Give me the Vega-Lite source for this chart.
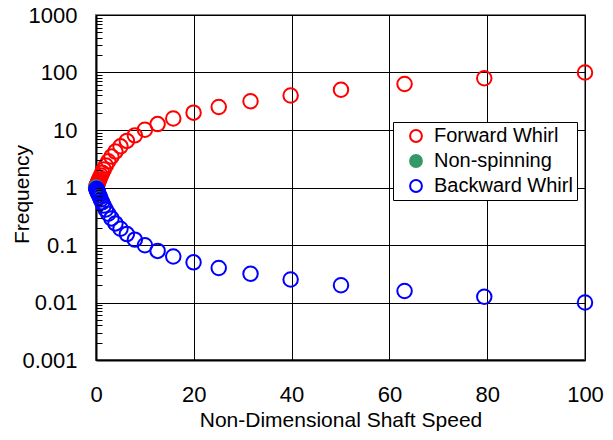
{
  "$schema": "https://vega.github.io/schema/vega-lite/v6.json",
  "width": 489,
  "height": 345,
  "autosize": {"type": "none"},
  "padding": {"left": 96, "top": 15, "right": 28, "bottom": 80},
  "background": "white",
  "config": {
    "font": "Liberation Sans",
    "view": {"stroke": "#808080", "strokeWidth": 2},
    "axis": {"labelColor": "black", "titleColor": "black", "labelFont": "Liberation Sans", "titleFont": "Liberation Sans", "titleFontWeight": "normal"}
  },
  "data": {
    "values": [
      {"speed": 0.1, "freq": 1.051, "series": "Forward Whirl"},
      {"speed": 0.126, "freq": 1.065, "series": "Forward Whirl"},
      {"speed": 0.158, "freq": 1.082, "series": "Forward Whirl"},
      {"speed": 0.2, "freq": 1.105, "series": "Forward Whirl"},
      {"speed": 0.251, "freq": 1.133, "series": "Forward Whirl"},
      {"speed": 0.316, "freq": 1.170, "series": "Forward Whirl"},
      {"speed": 0.398, "freq": 1.219, "series": "Forward Whirl"},
      {"speed": 0.5, "freq": 1.281, "series": "Forward Whirl"},
      {"speed": 0.631, "freq": 1.364, "series": "Forward Whirl"},
      {"speed": 0.794, "freq": 1.473, "series": "Forward Whirl"},
      {"speed": 1.0, "freq": 1.618, "series": "Forward Whirl"},
      {"speed": 1.26, "freq": 1.812, "series": "Forward Whirl"},
      {"speed": 1.58, "freq": 2.064, "series": "Forward Whirl"},
      {"speed": 2.0, "freq": 2.414, "series": "Forward Whirl"},
      {"speed": 2.51, "freq": 2.860, "series": "Forward Whirl"},
      {"speed": 3.16, "freq": 3.450, "series": "Forward Whirl"},
      {"speed": 3.98, "freq": 4.217, "series": "Forward Whirl"},
      {"speed": 5.01, "freq": 5.202, "series": "Forward Whirl"},
      {"speed": 6.31, "freq": 6.465, "series": "Forward Whirl"},
      {"speed": 7.94, "freq": 8.064, "series": "Forward Whirl"},
      {"speed": 10, "freq": 10.10, "series": "Forward Whirl"},
      {"speed": 12.6, "freq": 12.68, "series": "Forward Whirl"},
      {"speed": 15.8, "freq": 15.86, "series": "Forward Whirl"},
      {"speed": 19.95, "freq": 20.0, "series": "Forward Whirl"},
      {"speed": 25.1, "freq": 25.14, "series": "Forward Whirl"},
      {"speed": 31.6, "freq": 31.63, "series": "Forward Whirl"},
      {"speed": 39.8, "freq": 39.83, "series": "Forward Whirl"},
      {"speed": 50.1, "freq": 50.12, "series": "Forward Whirl"},
      {"speed": 63.1, "freq": 63.12, "series": "Forward Whirl"},
      {"speed": 79.4, "freq": 79.41, "series": "Forward Whirl"},
      {"speed": 100, "freq": 100.01, "series": "Forward Whirl"},
      {"speed": 0, "freq": 1, "series": "Non-spinning"},
      {"speed": 0.1, "freq": 0.951, "series": "Backward Whirl"},
      {"speed": 0.126, "freq": 0.939, "series": "Backward Whirl"},
      {"speed": 0.158, "freq": 0.924, "series": "Backward Whirl"},
      {"speed": 0.2, "freq": 0.905, "series": "Backward Whirl"},
      {"speed": 0.251, "freq": 0.882, "series": "Backward Whirl"},
      {"speed": 0.316, "freq": 0.854, "series": "Backward Whirl"},
      {"speed": 0.398, "freq": 0.821, "series": "Backward Whirl"},
      {"speed": 0.5, "freq": 0.781, "series": "Backward Whirl"},
      {"speed": 0.631, "freq": 0.733, "series": "Backward Whirl"},
      {"speed": 0.794, "freq": 0.679, "series": "Backward Whirl"},
      {"speed": 1.0, "freq": 0.618, "series": "Backward Whirl"},
      {"speed": 1.26, "freq": 0.552, "series": "Backward Whirl"},
      {"speed": 1.58, "freq": 0.484, "series": "Backward Whirl"},
      {"speed": 2.0, "freq": 0.414, "series": "Backward Whirl"},
      {"speed": 2.51, "freq": 0.350, "series": "Backward Whirl"},
      {"speed": 3.16, "freq": 0.290, "series": "Backward Whirl"},
      {"speed": 3.98, "freq": 0.237, "series": "Backward Whirl"},
      {"speed": 5.01, "freq": 0.192, "series": "Backward Whirl"},
      {"speed": 6.31, "freq": 0.155, "series": "Backward Whirl"},
      {"speed": 7.94, "freq": 0.124, "series": "Backward Whirl"},
      {"speed": 10, "freq": 0.099, "series": "Backward Whirl"},
      {"speed": 12.6, "freq": 0.0789, "series": "Backward Whirl"},
      {"speed": 15.8, "freq": 0.0630, "series": "Backward Whirl"},
      {"speed": 19.95, "freq": 0.0500, "series": "Backward Whirl"},
      {"speed": 25.1, "freq": 0.0398, "series": "Backward Whirl"},
      {"speed": 31.6, "freq": 0.0316, "series": "Backward Whirl"},
      {"speed": 39.8, "freq": 0.0251, "series": "Backward Whirl"},
      {"speed": 50.1, "freq": 0.01995, "series": "Backward Whirl"},
      {"speed": 63.1, "freq": 0.01584, "series": "Backward Whirl"},
      {"speed": 79.4, "freq": 0.01259, "series": "Backward Whirl"},
      {"speed": 100, "freq": 0.0100, "series": "Backward Whirl"}
    ]
  },
  "layer": [
    {
      "mark": {"type": "point", "shape": "circle", "size": 210, "strokeWidth": 2, "opacity": 1, "filled": true},
      "encoding": {
        "x": {
          "field": "speed", "type": "quantitative",
          "scale": {"domain": [0, 100], "nice": false},
          "axis": {
            "title": "Non-Dimensional Shaft Speed",
            "values": [0, 20, 40, 60, 80, 100],
            "labelFlush": false, "labelOverlap": false,
            "grid": true, "gridColor": "black", "gridWidth": 1, "gridOpacity": 1,
            "domainColor": "black", "domainWidth": 2,
            "ticks": false,
            "labelFontSize": 22, "labelPadding": 24,
            "titleFontSize": 21, "titlePadding": 4
          }
        },
        "y": {
          "field": "freq", "type": "quantitative",
          "scale": {"type": "log", "domain": [0.001, 1000], "nice": false},
          "axis": {
            "title": "Frequency",
            "values": [0.001, 0.01, 0.1, 1, 10, 100, 1000],
            "format": "~g",
            "labelFlush": false, "labelOverlap": false,
            "grid": true, "gridColor": "black", "gridWidth": 1, "gridOpacity": 1,
            "domainColor": "black", "domainWidth": 2,
            "ticks": false,
            "labelFontSize": 22, "labelPadding": 19,
            "titleFontSize": 21, "titleX": -74, "titleY": 179, "titleAlign": "center", "titleBaseline": "middle", "titleAngle": -90
          }
        },
        "stroke": {
          "field": "series", "type": "nominal",
          "scale": {"domain": ["Forward Whirl", "Non-spinning", "Backward Whirl"], "range": ["#ff0000", "#339966", "#0000ff"]},
          "legend": {
            "title": null, "orient": "none", "legendX": 297, "legendY": 107,
            "fillColor": "white", "strokeColor": "black",
            "padding": 4, "symbolOffset": 9, "symbolType": "circle", "symbolSize": 140, "symbolStrokeWidth": 2,
            "labelFontSize": 20, "labelFont": "Liberation Sans", "labelColor": "black", "labelOffset": 8, "rowPadding": 5
          }
        },
        "fill": {
          "field": "series", "type": "nominal",
          "scale": {"domain": ["Forward Whirl", "Non-spinning", "Backward Whirl"], "range": ["transparent", "#339966", "transparent"]},
          "legend": {
            "title": null, "orient": "none", "legendX": 297, "legendY": 107,
            "fillColor": "white", "strokeColor": "black",
            "padding": 4, "symbolOffset": 9, "symbolType": "circle", "symbolSize": 140, "symbolStrokeWidth": 2,
            "labelFontSize": 20, "labelFont": "Liberation Sans", "labelColor": "black", "labelOffset": 8, "rowPadding": 5
          }
        }
      }
    },
    {
      "mark": {"type": "point", "opacity": 0},
      "encoding": {
        "x": {"field": "speed", "type": "quantitative", "axis": null},
        "y": {
          "field": "freq", "type": "quantitative",
          "axis": {
            "orient": "left", "zindex": 1,
            "values": [0.001, 0.002, 0.003, 0.004, 0.005, 0.006, 0.007, 0.008, 0.009,
                       0.01, 0.02, 0.03, 0.04, 0.05, 0.06, 0.07, 0.08, 0.09,
                       0.1, 0.2, 0.3, 0.4, 0.5, 0.6, 0.7, 0.8, 0.9,
                       1, 2, 3, 4, 5, 6, 7, 8, 9,
                       10, 20, 30, 40, 50, 60, 70, 80, 90,
                       100, 200, 300, 400, 500, 600, 700, 800, 900, 1000],
            "labels": false, "grid": false, "domain": false, "title": null,
            "ticks": true, "tickSize": -6, "tickColor": "black", "tickWidth": 1
          }
        }
      }
    }
  ],
  "resolve": {"axis": {"y": "independent", "x": "independent"}}
}
